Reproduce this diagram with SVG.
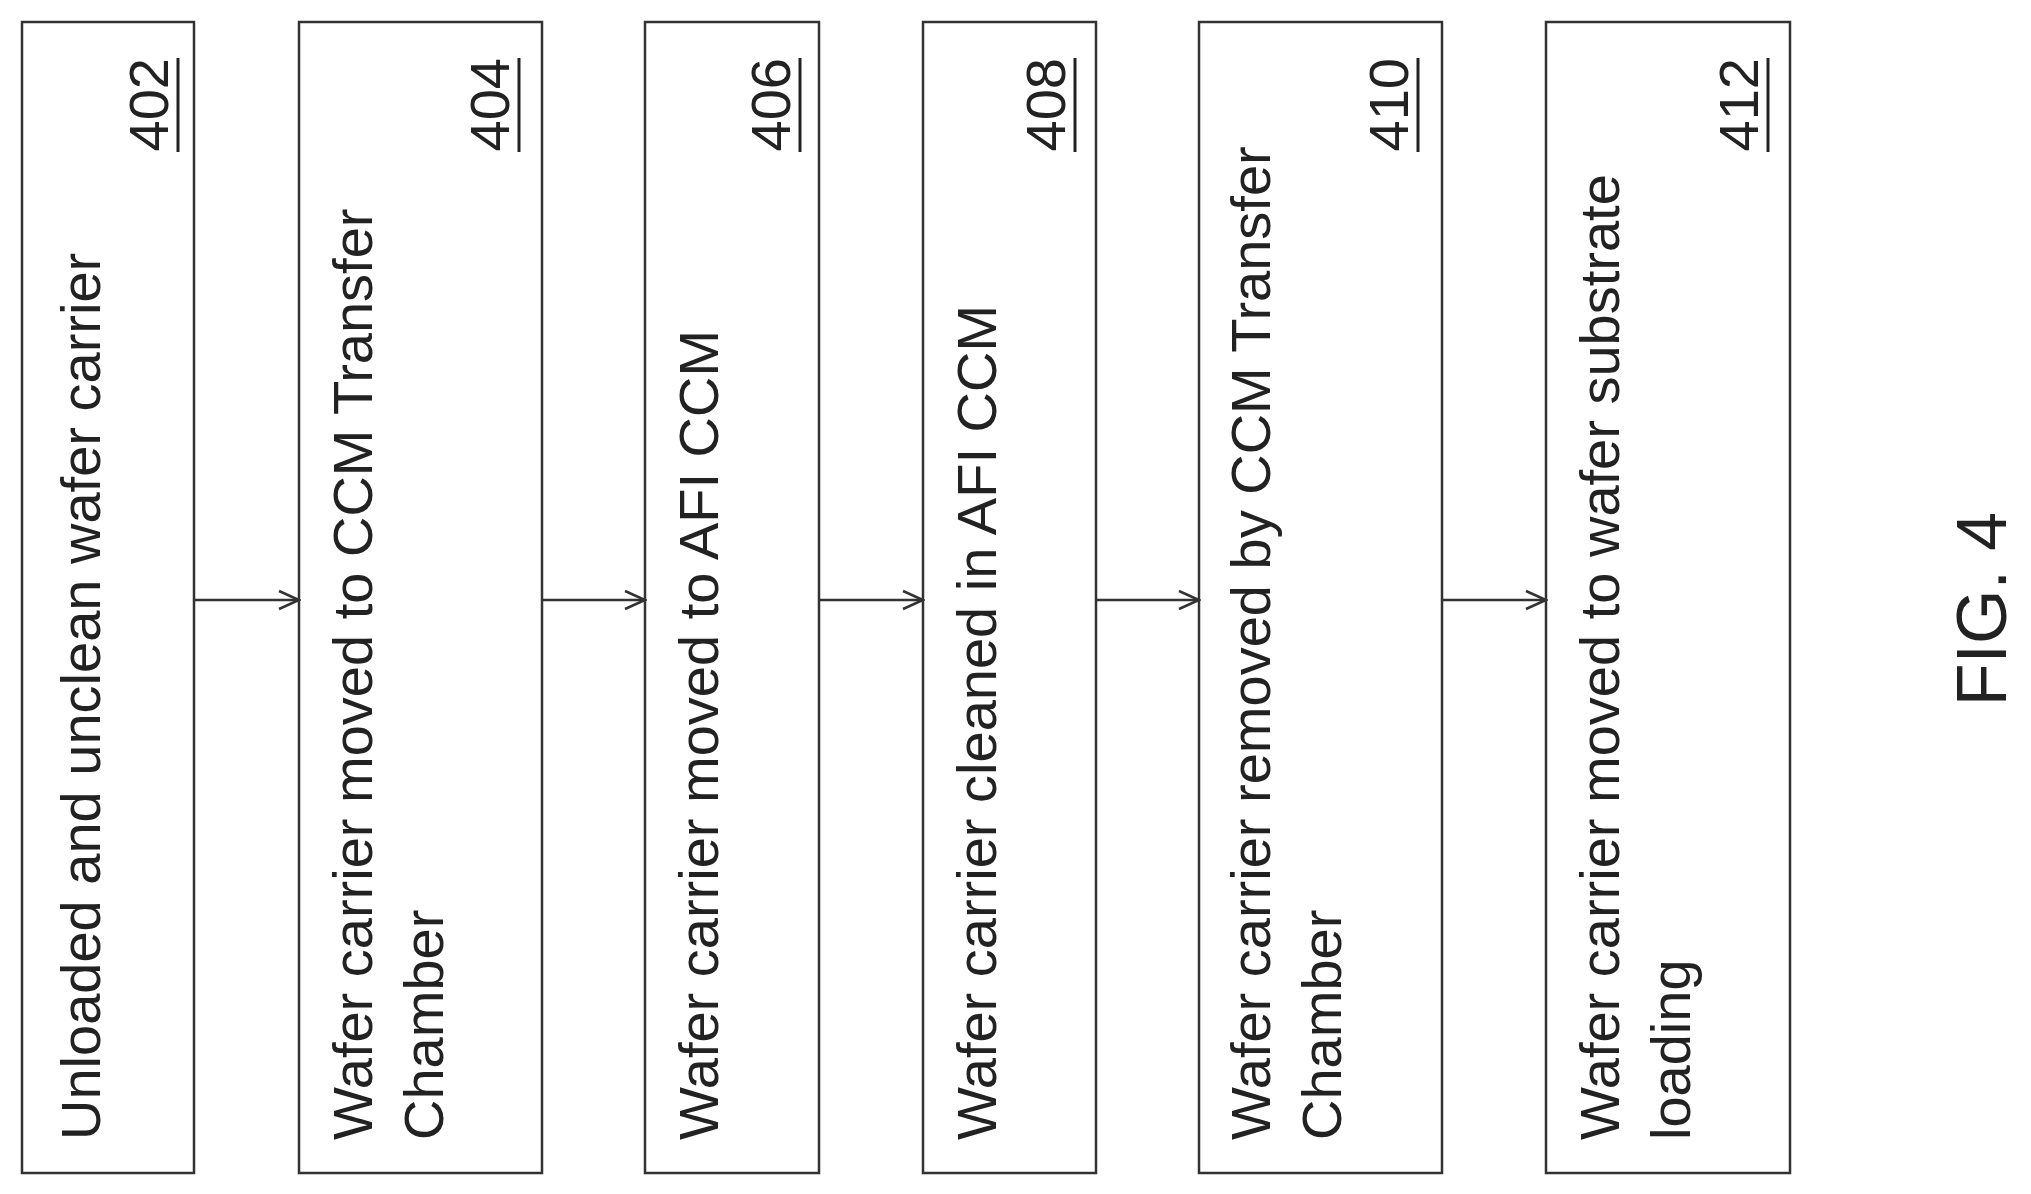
<svg xmlns="http://www.w3.org/2000/svg" width="2031" height="1194" viewBox="0 0 2031 1194">
<style>
.box{fill:#fff;stroke:#333;stroke-width:2.5}
.t{font-family:"Liberation Sans",Arial,sans-serif;font-size:56px;fill:#222}
.n{font-family:"Liberation Sans",Arial,sans-serif;font-size:56px;fill:#222;text-anchor:end}
.u{stroke:#222;stroke-width:3}
.c{stroke:#333;stroke-width:2.5;fill:none}
</style>
<defs>
<marker id="ah" markerWidth="24" markerHeight="24" refX="22" refY="12" orient="auto" markerUnits="userSpaceOnUse">
<path d="M2,3 L22,12 L2,21" fill="none" stroke="#333" stroke-width="2.5"/>
</marker>
</defs>
<rect width="2031" height="1194" fill="#fff"/>
<g id="n402"><rect class="box" x="22" y="22" width="172" height="1151"/>
<text class="t" transform="translate(100,1140) rotate(-90)">Unloaded and unclean wafer carrier</text>
<text class="n" transform="translate(168,58) rotate(-90)">402</text><line class="u" x1="178" y1="58" x2="178" y2="152"/></g>
<g id="n404"><rect class="box" x="299" y="22" width="243" height="1151"/>
<text class="t" transform="translate(372,1140) rotate(-90)">Wafer carrier moved to CCM Transfer</text>
<text class="t" transform="translate(443,1140) rotate(-90)">Chamber</text>
<text class="n" transform="translate(509,58) rotate(-90)">404</text><line class="u" x1="519" y1="58" x2="519" y2="152"/></g>
<g id="n406"><rect class="box" x="645" y="22" width="174" height="1151"/>
<text class="t" transform="translate(718,1140) rotate(-90)">Wafer carrier moved to AFI CCM</text>
<text class="n" transform="translate(790,58) rotate(-90)">406</text><line class="u" x1="800" y1="58" x2="800" y2="152"/></g>
<g id="n408"><rect class="box" x="923" y="22" width="173" height="1151"/>
<text class="t" transform="translate(996,1140) rotate(-90)">Wafer carrier cleaned in AFI CCM</text>
<text class="n" transform="translate(1065,58) rotate(-90)">408</text><line class="u" x1="1075" y1="58" x2="1075" y2="152"/></g>
<g id="n410"><rect class="box" x="1199" y="22" width="243" height="1151"/>
<text class="t" transform="translate(1270,1140) rotate(-90)">Wafer carrier removed by CCM Transfer</text>
<text class="t" transform="translate(1341,1140) rotate(-90)">Chamber</text>
<text class="n" transform="translate(1408,58) rotate(-90)">410</text><line class="u" x1="1418" y1="58" x2="1418" y2="152"/></g>
<g id="n412"><rect class="box" x="1546" y="22" width="244" height="1151"/>
<text class="t" transform="translate(1619,1140) rotate(-90)">Wafer carrier moved to wafer substrate</text>
<text class="t" transform="translate(1690,1140) rotate(-90)">loading</text>
<text class="n" transform="translate(1758,58) rotate(-90)">412</text><line class="u" x1="1768" y1="58" x2="1768" y2="152"/></g>
<g id="connectors">
<line class="c" x1="194" y1="600" x2="299" y2="600" marker-end="url(#ah)"/>
<line class="c" x1="542" y1="600" x2="645" y2="600" marker-end="url(#ah)"/>
<line class="c" x1="819" y1="600" x2="923" y2="600" marker-end="url(#ah)"/>
<line class="c" x1="1096" y1="600" x2="1199" y2="600" marker-end="url(#ah)"/>
<line class="c" x1="1442" y1="600" x2="1546" y2="600" marker-end="url(#ah)"/>
</g>
<text font-family="Liberation Sans,Arial,sans-serif" font-size="70" fill="#222" text-anchor="middle" transform="translate(2006,609) rotate(-90)">FIG. 4</text>
</svg>
